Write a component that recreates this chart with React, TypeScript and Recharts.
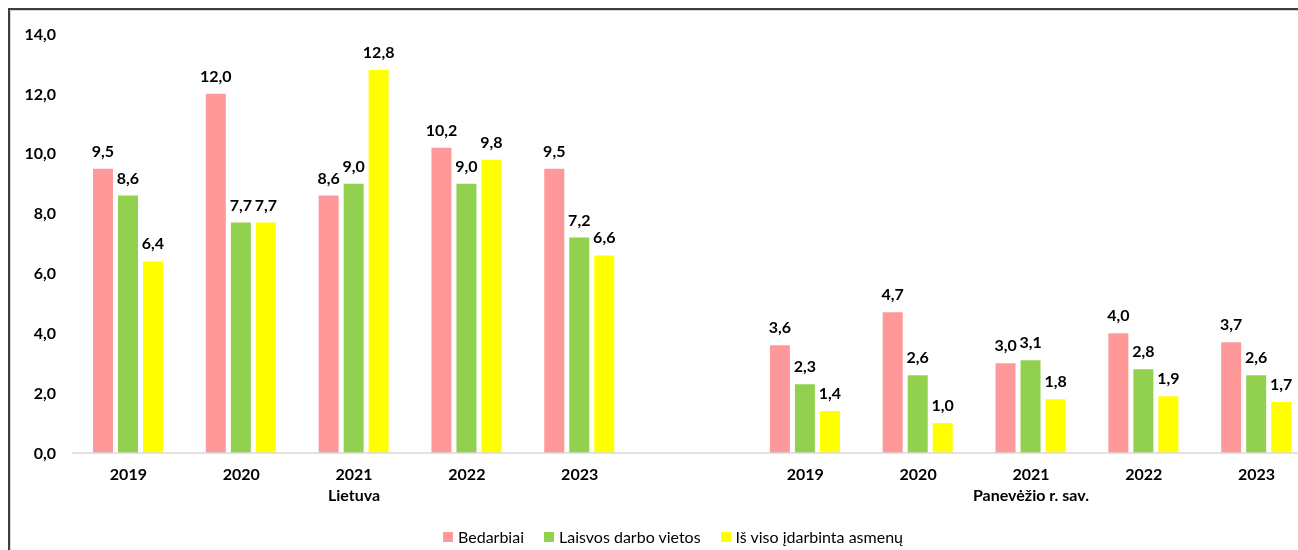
import React from "react";
import { BarChart, Bar, XAxis, YAxis, Legend, LabelList } from "recharts";

const years = ["2019", "2020", "2021", "2022", "2023"];
const groups = ["Lietuva", "Panevėžio r. sav."];

const bedarbiaiLt = [9.5, 12.0, 8.6, 10.2, 9.5];
const laisvosLt = [8.6, 7.7, 9.0, 9.0, 7.2];
const idarbintaLt = [6.4, 7.7, 12.8, 9.8, 6.6];

const bedarbiaiPan = [3.6, 4.7, 3.0, 4.0, 3.7];
const laisvosPan = [2.3, 2.6, 3.1, 2.8, 2.6];
const idarbintaPan = [1.4, 1.0, 1.8, 1.9, 1.7];

const yTicks = [0, 2, 4, 6, 8, 10, 12, 14];

const series = [
  { key: "bedarbiai", name: "Bedarbiai", color: "#FF9999" },
  { key: "laisvos", name: "Laisvos darbo vietos", color: "#92D050" },
  { key: "idarbinta", name: "Iš viso įdarbinta asmenų", color: "#FFFF00" },
];

const buildRows = (group: string, b: number[], l: number[], i: number[]) =>
  years.map((y, k) => ({ year: y, group, mid: k === 2, bedarbiai: b[k], laisvos: l[k], idarbinta: i[k] }));

// empty category between the two groups
const rows = [
  ...buildRows(groups[0], bedarbiaiLt, laisvosLt, idarbintaLt),
  { year: "", group: "", mid: false, bedarbiai: null, laisvos: null, idarbinta: null },
  ...buildRows(groups[1], bedarbiaiPan, laisvosPan, idarbintaPan),
];

const fmt = (v: any) => (v == null ? "" : Number(v).toFixed(1).replace(".", ","));
const FONT = "Lato, 'Open Sans', sans-serif";
const tickStyle = { fill: "#000", fontSize: 16, fontWeight: 700, fontFamily: FONT };

const LegendContent = () => (
  <div style={{ display: "flex", gap: 20, fontFamily: FONT, fontSize: 16, color: "#000", alignItems: "center" }}>
    {series.map((s) => (
      <div key={s.key} style={{ display: "flex", alignItems: "center", gap: 5 }}>
        <span style={{ width: 10, height: 10, background: s.color, display: "inline-block" }} />
        <span>{s.name}</span>
      </div>
    ))}
  </div>
);

export default function App() {
  return (
    <div style={{ position: "fixed", left: 8, top: 8, width: 1290, height: 542, overflow: "hidden" }}>
      <div
        style={{
          width: 1330,
          height: 570,
          border: "2px solid #3f3f3f",
          boxShadow: "inset 1px 1px 0 #d4d4d4",
          boxSizing: "border-box",
        }}
      >
        <BarChart
          width={1320}
          height={540}
          data={rows}
          margin={{ top: 24, right: 17, bottom: 30, left: 0 }}
          barSize={20}
          barGap={5}
        >
          <XAxis
            dataKey="year"
            axisLine={{ stroke: "#D9D9D9", strokeWidth: 1.5 }}
            tickLine={false}
            tickSize={0}
            tickMargin={16}
            height={22}
            interval={0}
            tick={tickStyle}
          />
          <XAxis
            xAxisId="grp"
            dataKey="year"
            axisLine={false}
            tickLine={false}
            tickSize={0}
            tickMargin={15}
            height={26}
            interval={0}
            tickFormatter={(_v: any, i: number) => (rows[i] && rows[i].mid ? rows[i].group : "")}
            tick={tickStyle}
          />
          <YAxis
            domain={[0, 14]}
            ticks={yTicks}
            width={62}
            axisLine={false}
            tickLine={false}
            tickSize={0}
            tickMargin={16}
            tickFormatter={fmt}
            tick={tickStyle}
          />
          <Legend
            content={<LegendContent />}
            wrapperStyle={{ left: 433, top: 517, width: "auto" }}
          />
          {series.map((s) => (
            <Bar key={s.key} dataKey={s.key} name={s.name} fill={s.color} isAnimationActive={false}>
              <LabelList
                dataKey={s.key}
                position="top"
                offset={12}
                formatter={fmt}
                style={tickStyle}
              />
            </Bar>
          ))}
        </BarChart>
      </div>
    </div>
  );
}
